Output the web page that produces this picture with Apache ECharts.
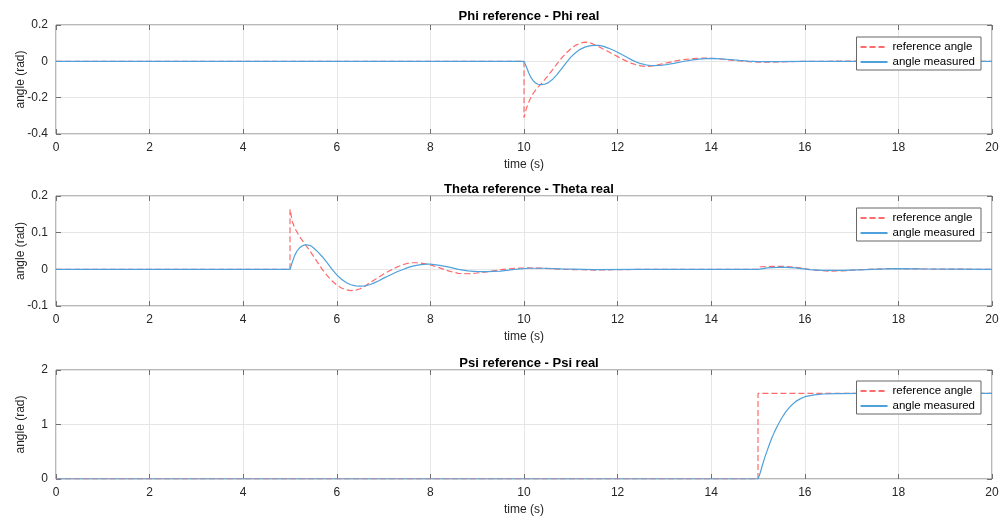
<!DOCTYPE html>
<html>
<head>
<meta charset="utf-8">
<script src="https://cdn.jsdelivr.net/npm/echarts@6/dist/echarts.min.js"></script>
<style>html,body{margin:0;padding:0;background:#fff}#c{width:1000px;height:522px}</style>
</head>
<body>
<div id="c"></div>
<script>
// ---- data ----
var titles = ['Phi reference - Phi real', 'Theta reference - Theta real', 'Psi reference - Psi real'];
var xTicks = [0, 2, 4, 6, 8, 10, 12, 14, 16, 18, 20];
var yRanges = [[-0.4, 0.2, 0.2], [-0.1, 0.2, 0.1], [0, 2, 1]];

var phiRefT = [0, 10, 10, 10.05, 10.1, 10.15, 10.2, 10.3, 10.4, 10.5, 10.6, 10.7, 10.8, 10.9, 11.0, 11.1, 11.2, 11.3, 11.4, 11.5, 11.6, 11.7, 11.8, 11.9, 12.0, 12.1, 12.2, 12.3, 12.4, 12.5, 12.6, 12.7, 12.8, 12.9, 13.0, 13.2, 13.4, 13.6, 13.8, 14.0, 14.2, 14.4, 14.6, 14.8, 15.0, 15.3, 15.6, 16.0, 17, 20];
var phiRefV = [0, 0, -0.31, -0.26, -0.225, -0.198, -0.175, -0.142, -0.115, -0.083, -0.05, -0.015, 0.017, 0.045, 0.069, 0.088, 0.1, 0.106, 0.103, 0.093, 0.08, 0.067, 0.054, 0.04, 0.026, 0.012, 0.0, -0.011, -0.019, -0.025, -0.028, -0.027, -0.023, -0.017, -0.011, 0.0, 0.009, 0.015, 0.018, 0.017, 0.013, 0.007, 0.002, -0.002, -0.004, -0.004, -0.002, 0.0, 0.001, 0];

var phiMeasT = [0, 10.0, 10.05, 10.1, 10.15, 10.2, 10.25, 10.3, 10.38, 10.45, 10.5, 10.6, 10.7, 10.8, 10.9, 11.0, 11.1, 11.2, 11.3, 11.4, 11.5, 11.6, 11.7, 11.8, 11.9, 12.0, 12.1, 12.2, 12.3, 12.4, 12.5, 12.6, 12.7, 12.8, 12.9, 13.0, 13.2, 13.4, 13.6, 13.8, 14.0, 14.2, 14.4, 14.6, 14.8, 15.0, 15.4, 16.0, 20];
var phiMeasV = [0, 0, -0.03, -0.063, -0.09, -0.108, -0.12, -0.126, -0.128, -0.125, -0.12, -0.102, -0.075, -0.042, -0.008, 0.023, 0.047, 0.066, 0.078, 0.085, 0.088, 0.088, 0.082, 0.073, 0.062, 0.05, 0.036, 0.022, 0.008, -0.004, -0.013, -0.019, -0.023, -0.024, -0.023, -0.02, -0.011, -0.001, 0.008, 0.014, 0.016, 0.014, 0.01, 0.005, 0.001, -0.002, -0.002, 0, 0];

var thetaRefT = [0, 5, 5, 5.05, 5.1, 5.2, 5.3, 5.4, 5.5, 5.6, 5.7, 5.8, 5.9, 6.0, 6.1, 6.2, 6.3, 6.4, 6.5, 6.6, 6.7, 6.8, 6.9, 7.0, 7.1, 7.2, 7.3, 7.4, 7.5, 7.6, 7.7, 7.8, 7.9, 8.0, 8.2, 8.4, 8.6, 8.8, 9.0, 9.2, 9.5, 9.8, 10.1, 10.4, 10.8, 11.5, 12.5, 15, 15.05, 15.3, 15.6, 15.9, 16.2, 16.5, 16.8, 17.2, 17.8, 18.5, 20];
var thetaRefV = [0, 0, 0.164, 0.13, 0.113, 0.09, 0.072, 0.055, 0.036, 0.017, -0.002, -0.018, -0.032, -0.043, -0.051, -0.056, -0.058, -0.057, -0.053, -0.046, -0.037, -0.029, -0.021, -0.013, -0.006, 0.001, 0.007, 0.012, 0.016, 0.018, 0.018, 0.017, 0.015, 0.012, 0.004, -0.005, -0.011, -0.012, -0.01, -0.007, -0.001, 0.003, 0.004, 0.003, 0.0, -0.002, 0, 0, 0.007, 0.008, 0.008, 0.004, -0.002, -0.005, -0.004, -0.001, 0.002, 0.001, 0];

var thetaMeasT = [0, 5, 5.05, 5.1, 5.15, 5.2, 5.25, 5.3, 5.36, 5.45, 5.5, 5.6, 5.7, 5.8, 5.9, 6.0, 6.1, 6.2, 6.3, 6.4, 6.5, 6.6, 6.7, 6.8, 6.9, 7.0, 7.1, 7.2, 7.3, 7.4, 7.5, 7.6, 7.7, 7.8, 7.9, 8.0, 8.2, 8.4, 8.6, 8.8, 9.0, 9.2, 9.5, 9.8, 10.1, 10.4, 10.8, 11.5, 12.5, 15, 15.2, 15.5, 15.8, 16.1, 16.4, 16.8, 17.3, 17.9, 18.5, 20];
var thetaMeasV = [0, 0, 0.02, 0.038, 0.05, 0.058, 0.063, 0.066, 0.067, 0.064, 0.059, 0.047, 0.033, 0.017, 0.0, -0.015, -0.027, -0.036, -0.042, -0.045, -0.046, -0.045, -0.042, -0.037, -0.031, -0.024, -0.018, -0.012, -0.006, -0.001, 0.004, 0.008, 0.011, 0.013, 0.014, 0.014, 0.011, 0.006, 0.0, -0.004, -0.006, -0.006, -0.005, 0.0, 0.003, 0.003, 0.001, -0.001, 0, 0, 0.004, 0.006, 0.004, -0.001, -0.003, -0.003, -0.001, 0.002, 0.001, 0];

var psiRefT = [0, 15, 15, 20];
var psiRefV = [0, 0, 1.5708, 1.5708];

var psiMeasT = [0, 15, 15.05, 15.1, 15.15, 15.2, 15.25, 15.3, 15.35, 15.4, 15.5, 15.6, 15.7, 15.8, 15.9, 16.0, 16.2, 16.4, 16.7, 17.2, 20];
var psiMeasV = [0, 0, 0.12, 0.27, 0.41, 0.53, 0.65, 0.76, 0.86, 0.95, 1.11, 1.24, 1.34, 1.42, 1.47, 1.51, 1.545, 1.56, 1.567, 1.57, 1.5708];

// ---- build ----
function zip(t, v) { return t.map(function (x, i) { return [x, v[i]]; }); }
var refData = [zip(phiRefT, phiRefV), zip(thetaRefT, thetaRefV), zip(psiRefT, psiRefV)];
var measData = [zip(phiMeasT, phiMeasV), zip(thetaMeasT, thetaMeasV), zip(psiMeasT, psiMeasV)];

var grids = [
  { left: 56, right: 8, top: 25, height: 109 },
  { left: 56, right: 8, top: 196, height: 110 },
  { left: 56, right: 8, top: 370, height: 109 }
];
var titleTops = [5, 178, 352];
var legendTops = [37, 208, 381];
var FRAME = '#707070';
var FONT = 'Liberation Sans, Arial, sans-serif';

var option = {
  animation: false,
  backgroundColor: '#fff',
  title: [], grid: [], xAxis: [], yAxis: [], series: [], legend: []
};

for (var i = 0; i < 3; i++) {
  option.title.push({
    text: titles[i], left: 524, top: titleTops[i], textAlign: 'center',
    textStyle: { fontFamily: FONT, fontSize: 13, fontWeight: 'bold', color: '#000' }
  });
  option.grid.push(Object.assign({ show: true, borderColor: FRAME, borderWidth: 1, backgroundColor: '#fff',
    containLabel: false, outerBoundsMode: 'none' }, grids[i]));
  var r = yRanges[i];
  option.xAxis.push({
    type: 'value', gridIndex: i, min: 0, max: 20, interval: 2, position: 'bottom',
    name: 'time (s)', nameLocation: 'middle', nameGap: 25, nameMoveOverlap: false,
    nameTextStyle: { fontFamily: FONT, fontSize: 12, color: '#262626' },
    axisLine: { show: false, onZero: false },
    axisTick: { show: true, inside: true, length: 5, lineStyle: { color: FRAME } },
    axisLabel: { fontFamily: FONT, fontSize: 12, color: '#262626', margin: 8 },
    splitLine: { show: true, lineStyle: { color: '#e6e6e6', width: 1 } }
  });
  option.yAxis.push({
    type: 'value', gridIndex: i, min: r[0], max: r[1], interval: r[2], position: 'left',
    name: 'angle (rad)', nameLocation: 'middle', nameGap: 29, nameRotate: 90, nameMoveOverlap: false,
    nameTextStyle: { fontFamily: FONT, fontSize: 12, color: '#262626' },
    axisLine: { show: false, onZero: false },
    axisTick: { show: true, inside: true, length: 5, lineStyle: { color: FRAME } },
    axisLabel: { fontFamily: FONT, fontSize: 12, color: '#262626', margin: 8,
      formatter: function (v) { return String(Math.round(v * 10) / 10); } },
    splitLine: { show: true, lineStyle: { color: '#e6e6e6', width: 1 } }
  });
  option.series.push({
    name: 'reference angle', type: 'line', xAxisIndex: i, yAxisIndex: i,
    data: refData[i], showSymbol: false, symbol: 'none',
    lineStyle: { color: '#ff6b6b', width: 1.2, type: [6, 3] },
    itemStyle: { color: '#ff6b6b' }, z: 2
  });
  option.series.push({
    name: 'angle measured', type: 'line', xAxisIndex: i, yAxisIndex: i,
    data: measData[i], showSymbol: false, symbol: 'none',
    lineStyle: { color: '#4ea1dc', width: 1.2 },
    itemStyle: { color: '#4ea1dc' }, z: 3
  });
  option.legend.push({
    data: ['reference angle', 'angle measured'], orient: 'vertical',
    right: 19, top: legendTops[i], itemWidth: 27, itemHeight: 12, itemGap: 3,
    padding: [4, 6, 2, 3], borderColor: '#666', borderWidth: 1, backgroundColor: '#fff',
    itemStyle: { opacity: 0 },
    textStyle: { fontFamily: FONT, fontSize: 11.5, color: '#000', padding: [0, 0, 0, 0] },
    selectedMode: false, z: 10
  });
}
// top / right tick-only axes for the box look
for (var j = 0; j < 3; j++) {
  var rr = yRanges[j];
  option.xAxis.push({
    type: 'value', gridIndex: j, min: 0, max: 20, interval: 2, position: 'top',
    axisLine: { show: false, onZero: false }, axisLabel: { show: false }, splitLine: { show: false },
    axisTick: { show: true, inside: true, length: 5, lineStyle: { color: FRAME } }
  });
  option.yAxis.push({
    type: 'value', gridIndex: j, min: rr[0], max: rr[1], interval: rr[2], position: 'right',
    axisLine: { show: false, onZero: false }, axisLabel: { show: false }, splitLine: { show: false },
    axisTick: { show: true, inside: true, length: 5, lineStyle: { color: FRAME } }
  });
}

var chart = echarts.init(document.getElementById('c'), null, { renderer: 'canvas' });
chart.setOption(option);
</script>
</body>
</html>
